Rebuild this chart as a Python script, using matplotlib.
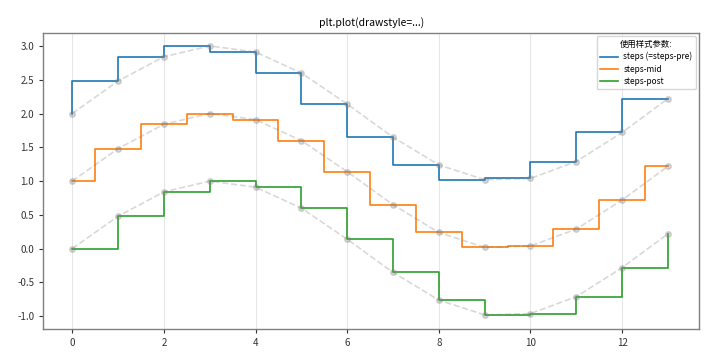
import matplotlib
matplotlib.use("Agg")
import matplotlib.pyplot as plt
import numpy as np

plt.rcParams['font.family'] = ['Noto Sans CJK SC', 'DejaVu Sans']
plt.rcParams['axes.unicode_minus'] = False

x = list(range(14))
y_pre = [2.00, 2.48, 2.84, 3.00, 2.91, 2.60, 2.14, 1.65, 1.24, 1.02, 1.04, 1.29, 1.72, 2.22]
y_mid = [1.00, 1.48, 1.84, 2.00, 1.91, 1.60, 1.14, 0.65, 0.24, 0.02, 0.04, 0.29, 0.72, 1.22]
y_post = [0.00, 0.48, 0.84, 1.00, 0.91, 0.60, 0.14, -0.35, -0.76, -0.98, -0.96, -0.71, -0.28, 0.22]
labels = ['steps (=steps-pre)', 'steps-mid', 'steps-post']
styles = ['steps', 'steps-mid', 'steps-post']
colors = ['#1f77b4', '#ff7f0e', '#2ca02c']

fig = plt.figure(figsize=(7.2, 3.52), dpi=100)
ax = fig.add_axes([0.06, 0.065, 0.911, 0.841])

for ys, lab, ds, c in zip([y_pre, y_mid, y_post], labels, styles, colors):
    ax.plot(x, ys, drawstyle=ds, label=lab, color=c, lw=1.2)
    ax.plot(x, ys, 'o--', color='grey', alpha=0.3, ms=4, lw=1.2)

ax.grid(axis='x', color='#e0e0e0', lw=0.6)
for s in ax.spines.values():
    s.set_color('#808080')
    s.set_linewidth(1.0)
ax.tick_params(labelsize=7, colors='#333333', length=3)
ax.set_xlim(-0.633, 13.68)
ax.set_ylim(-1.19, 3.19)
ax.set_xticks([0, 2, 4, 6, 8, 10, 12])
ax.set_yticks([-1.0, -0.5, 0.0, 0.5, 1.0, 1.5, 2.0, 2.5, 3.0])
ax.set_title('plt.plot(drawstyle=...)', fontsize=7.5, pad=5)
leg = ax.legend(title='使用样式参数:', fontsize=6, title_fontsize=6, loc='upper right',
                handlelength=2.2, framealpha=0.8, labelspacing=0.4,
                borderaxespad=0.4, handletextpad=0.6)
fig.savefig('out.png', dpi=100)
